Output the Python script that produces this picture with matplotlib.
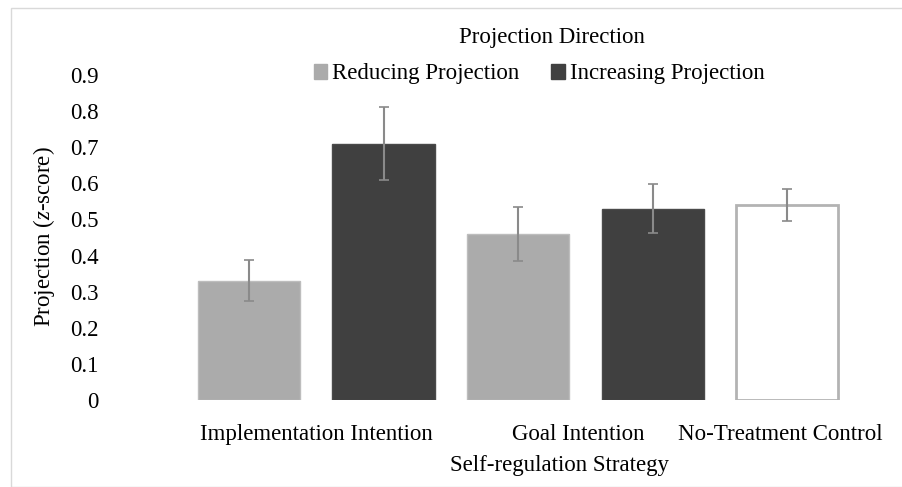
import matplotlib.pyplot as plt
from matplotlib.patches import Patch, Rectangle

plt.rcParams["font.family"] = ["Liberation Serif", "DejaVu Serif"]
plt.rcParams["mathtext.fontset"] = "custom"
plt.rcParams["mathtext.it"] = "Liberation Serif:italic"
plt.rcParams["mathtext.rm"] = "Liberation Serif"

groups = ["Implementation Intention", "Goal Intention", "No-Treatment Control"]
values = [0.33, 0.71, 0.46, 0.53, 0.54]
errors = [0.057, 0.102, 0.075, 0.067, 0.045]
series = ["Reducing Projection", "Increasing Projection", "Reducing Projection",
          "Increasing Projection", "Control"]
yticks = [0, 0.1, 0.2, 0.3, 0.4, 0.5, 0.6, 0.7, 0.8, 0.9]

LIGHT = "#ababab"
DARK = "#404040"
ERR = "#8a8a8a"
FS = 16.5

fig = plt.figure(figsize=(9.03, 4.87), dpi=100)
W, H = 903, 487

# thin frame around the chart area
fig.patches.append(Rectangle((11 / W, 0), 1, (H - 8) / H, transform=fig.transFigure,
                             fill=False, edgecolor="#d9d9d9", linewidth=1))

ax = fig.add_axes([115 / W, (H - 400) / H, 765 / W, 325 / H])

x = list(range(len(values)))
face = {"Reducing Projection": LIGHT, "Increasing Projection": DARK, "Control": "white"}
edge = {"Reducing Projection": "#bdbdbd", "Increasing Projection": "#4a4a4a", "Control": "#b3b3b3"}
for i, v in enumerate(values):
    s = series[i]
    ax.bar(x[i], v, width=0.76, color=face[s], edgecolor=edge[s],
           linewidth=2 if s == "Control" else 1, zorder=2)
    ax.errorbar(x[i], v, yerr=errors[i], fmt="none", ecolor=ERR, elinewidth=1.5,
                capsize=3.5, capthick=1.2, zorder=3)

ax.set_xlim(-0.996, 4.69)
ax.set_ylim(0, 0.9)
ax.set_yticks(yticks)
ax.set_yticklabels(["0" if t == 0 else f"{t:.1f}" for t in yticks], fontsize=FS)
ax.set_xticks([0.5, 2.45, 3.95])
ax.set_xticklabels(groups, fontsize=FS)
ax.tick_params(length=0)
ax.tick_params(axis="y", pad=12)
ax.tick_params(axis="x", pad=17)
for sp in ax.spines.values():
    sp.set_visible(False)

fig.text(44 / W, 1 - 237 / H, "Projection ($\\it{z}$-score)", rotation=90,
         ha="center", va="center", fontsize=FS)
fig.text(559 / W, 1 - 466 / H, "Self-regulation Strategy", ha="center", va="center", fontsize=FS)
fig.text(552 / W, 1 - 37 / H, "Projection Direction", ha="center", va="center", fontsize=FS)

handles = [Patch(facecolor=LIGHT, edgecolor=LIGHT), Patch(facecolor=DARK, edgecolor=DARK)]
fig.legend(handles, ["Reducing Projection", "Increasing Projection"], loc="center",
           bbox_to_anchor=(539 / W, 1 - 74 / H), ncol=2, frameon=False, fontsize=FS,
           handlelength=0.6, handleheight=0.6, handletextpad=0.2, columnspacing=1.4)

fig.savefig("out.png", dpi=100)
